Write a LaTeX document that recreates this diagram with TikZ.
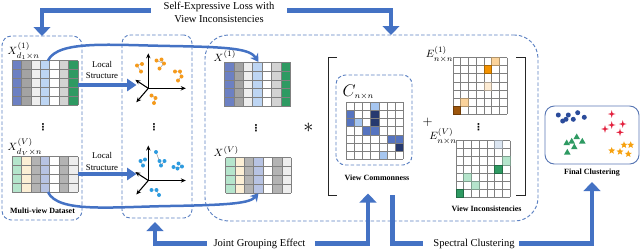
\documentclass[tikz,border=0pt]{standalone}
\usepackage{fontspec}
\setmainfont{Liberation Serif}
\newfontfamily\symfont{DejaVu Sans}
\usepackage{xcolor}
\definecolor{flowblue}{HTML}{4472C4}
\definecolor{dashblue}{HTML}{5B80C2}
\definecolor{frameblue}{HTML}{5A78B4}
\definecolor{viewblue}{HTML}{6C80C3}
\definecolor{viewgray}{HTML}{A3A3A3}
\definecolor{viewlight}{HTML}{EEEEEE}
\definecolor{viewsky}{HTML}{BDD5F3}
\definecolor{viewsilver}{HTML}{D3D3D3}
\definecolor{viewgreen}{HTML}{2E9A62}
\definecolor{viewmint}{HTML}{B5E5CC}
\definecolor{viewcream}{HTML}{FCEFD5}
\definecolor{viewslate}{HTML}{B3B3B3}
\definecolor{viewlilac}{HTML}{B7C3E3}
\definecolor{comlight}{HTML}{A6C6F0}
\definecolor{commid}{HTML}{5674C0}
\definecolor{comdark}{HTML}{26396F}
\definecolor{incpeach}{HTML}{FBD39B}
\definecolor{incorange}{HTML}{F39200}
\definecolor{incpale}{HTML}{FDEBD3}
\definecolor{incbrown}{HTML}{9E560C}
\definecolor{incice}{HTML}{DCE6F2}
\definecolor{dotorange}{HTML}{F59A1B}
\definecolor{dotblue}{HTML}{2D9BDF}
\definecolor{clnavy}{HTML}{2B4C9B}
\definecolor{clred}{HTML}{E3223F}
\definecolor{clgold}{HTML}{F6A10F}
\usepackage{tikz}
\usetikzlibrary{arrows.meta, shapes.geometric, positioning, calc}

\begin{document}
\begin{tikzpicture}[
  x=0.3mm, y=-0.3mm,
  region/.style={draw=dashblue, line width=0.8pt, dash pattern=on 3pt off 1.8pt,
    rounded corners=#1, inner sep=0pt, outer sep=0pt},
  matframe/.style={inner sep=0pt, outer sep=0pt},
  cellline/.style={draw=black!50, line width=0.4pt},
  flow/.style={draw=flowblue, line width=0.14cm},
  flowtip/.style={flow, -{Triangle[width=0.5cm, length=0.27cm]}},
  localtip/.style={draw=flowblue, line width=0.12cm, -{Triangle[width=0.36cm, length=0.28cm]}},
  linkcurve/.style={draw=flowblue, line width=0.075cm, -{Stealth[width=0.28cm, length=0.24cm]}},
  axisline/.style={line width=0.9pt, -{Stealth[width=0.13cm, length=0.15cm]}},
  joinline/.style={draw=black!45, line width=0.35pt},
  bracketline/.style={draw=black!85, line width=0.8pt},
  note/.style={font=\fontsize{9}{10.5}\selectfont, align=center},
  boxtag/.style={font=\fontsize{6.8}{8}\selectfont\bfseries},
  mathlabel/.style={font=\fontsize{9.5}{10}\selectfont, inner sep=0pt},
  vdotsmark/.style={font=\symfont\bfseries\fontsize{8}{8}\selectfont, inner sep=0pt},
  navydot/.style={circle, fill=clnavy, inner sep=0pt, minimum size=0.15cm},
  redcross/.style={star, star points=4, star point ratio=3.2, fill=clred,
    inner sep=0pt, minimum size=0.23cm},
  greentri/.style={regular polygon, regular polygon sides=3, fill=viewgreen,
    inner sep=0pt, minimum size=0.23cm},
  goldstar/.style={star, star points=5, star point ratio=2.3, fill=clgold,
    inner sep=0pt, minimum size=0.22cm}
]
  \useasboundingbox (0,0) rectangle (640,250);

  % regions
  \node[region=8pt, minimum width=2.4cm, minimum height=5.52cm] (box1) at (42,128) {};
  \node[region=7pt, minimum width=2.1cm, minimum height=5.49cm] (box2) at (157,126.5) {};
  \node[region=20pt, minimum width=9.99cm, minimum height=5.58cm] (box3) at (371.5,128) {};
  \node[region=8pt, minimum width=2.28cm, minimum height=2.7cm] (boxc) at (374,120) {};
  \node[draw=frameblue, line width=0.8pt, rounded corners=8pt,
    minimum width=2.82cm, minimum height=1.74cm] (boxf) at (592,135) {};

  % loss on top
  \node[note] (lossnote) at (219,12.5) {Self-Expressive Loss with\\View Inconsistencies};
  \draw[flowtip] ($(lossnote.west)+(-9,-2)$) -| (box1.north);
  \draw[flowtip] ($(lossnote.east)+(9,-2)$) -| ($(box3.north)+(19.5,0)$);

  % view matrices
  \node[matframe, minimum width=1.974cm, minimum height=1.335cm] (xa) at (44.9,82.75) {};
  \node[matframe, minimum width=1.974cm, minimum height=1.068cm] (xb) at (44.9,174.3) {};
  \node[matframe, minimum width=1.974cm, minimum height=1.335cm] (xc) at (257.4,84.25) {};
  \node[matframe, minimum width=1.974cm, minimum height=1.068cm] (xd) at (258.4,175.3) {};
  \foreach \m/\r in {xa/5, xc/5}
    \foreach \c [count=\i from 0] in {viewblue, viewgray, viewlight, viewsky, white, viewsilver, viewgreen}
      \fill[\c] ($(\m.north west)+(\i*9.4,0)$) rectangle +(9.4,\r*8.9);
  \foreach \m/\r in {xb/4, xd/4}
    \foreach \c [count=\i from 0] in {viewmint, viewcream, viewslate, viewlilac, white, viewslate, viewlight}
      \fill[\c] ($(\m.north west)+(\i*9.4,0)$) rectangle +(9.4,\r*8.9);
  \foreach \m/\r in {xa/5, xb/4, xc/5, xd/4} {
    \foreach \i in {0,...,7}
      \draw[cellline] ($(\m.north west)+(\i*9.4,0)$) -- +(0,\r*8.9);
    \foreach \j in {0,...,\r}
      \draw[cellline] ($(\m.north west)+(0,\j*8.9)$) -- +(65.8,0);
  }
  \node[mathlabel, anchor=south west] (xalab) at (7.5,60) {$X^{(1)}_{d_1\times n}$};
  \node[mathlabel, anchor=south west] (xblab) at (7.5,156) {$X^{(V)}_{d_V\times n}$};
  \node[mathlabel, anchor=south west] (xclab) at (213.5,61.5) {$X^{(1)}$};
  \node[mathlabel, anchor=south west] (xdlab) at (213.5,157) {$X^{(V)}$};
  \node[vdotsmark] (xadots) at (43,127.5) {⋮};
  \node[vdotsmark] (xcdots) at (256,128) {⋮};

  % local structure
  \coordinate (ls1) at (136.5,85);
  \coordinate (ls2) at (136.5,174);
  \draw[localtip] (xa.east |- ls1) -- (ls1);
  \draw[localtip] (xb.east |- ls2) -- (ls2);
  \node[font=\fontsize{7.5}{10}\selectfont, align=center] (ls1lab) at (102,70) {Local\\Structure};
  \node[font=\fontsize{7.5}{10}\selectfont, align=center] (ls2lab) at (102,161.5) {Local\\Structure};

  \coordinate (o1) at (148.3,88.3);
  \coordinate (o2) at (148.3,180.5);
  \foreach \o in {o1, o2} {
    \draw[axisline] (\o) -- +(0,-35);
    \draw[axisline] (\o) -- +(37.5,0);
    \draw[axisline] (\o) -- +(-13,-8.5);
    \draw[axisline] (\o) -- +(-12,14);
  }
  \draw[joinline] (137,65.5) -- (142,64) (137,65.5) -- (141,71.5)
    (156.5,60.5) -- (164,63.5) -- (161.5,59.5) (164,63.5) -- (159.5,68.5)
    (175,71.5) -- (180,71.5) -- (181.5,76.5) -- (178,80.5)
    (151.5,95.5) -- (155.5,98) -- (154,103);
  \foreach \x/\y in {137/65.5, 142/64, 141/71.5, 156.5/60.5, 161.5/59.5, 164/63.5,
      159.5/68.5, 175/71.5, 180/71.5, 181.5/76.5, 178/80.5, 151.5/95.5, 155.5/98, 154/103}
    \fill[dotorange] (\x,\y) circle (0.06cm);
  \draw[joinline] (140.5,161) -- (145,159.5) (140.5,161) -- (143,165.5)
    (156,152) -- (159.5,161) -- (161,165.5) -- (164.5,161) (156,152) -- (161,165.5)
    (173.5,167) -- (177.5,168.5) -- (182,166.5) -- (178.5,163.5)
    (151.5,190) -- (156.5,190) -- (159,195);
  \foreach \x/\y in {140.5/161, 145/159.5, 143/165.5, 156/152, 159.5/161, 161/165.5,
      164.5/161, 173.5/167, 177.5/168.5, 182/166.5, 178.5/163.5, 151.5/190, 156.5/190, 159/195}
    \fill[dotblue] (\x,\y) circle (0.06cm);
  \node[vdotsmark] (plotdots) at (154,127) {⋮};

  % links between the view matrices
  \coordinate (xatop) at ($(xa.north west)+(36,0)$);
  \coordinate (xbbot) at ($(xb.south west)+(36,0)$);
  \coordinate (xctop) at ($(xc.north west)+(34,0)$);
  \coordinate (xdbot) at ($(xd.south west)+(33,0)$);
  \draw[linkcurve] (xatop) .. controls (58,40) and (110,45) .. (170,46)
    .. controls (232,47) and (250,49) .. (xctop);
  \draw[linkcurve] (xbbot) .. controls (58,213) and (110,207) .. (170,206)
    .. controls (232,205) and (250,203) .. (xdbot);

  % commonness and inconsistencies
  \node[font=\fontsize{18}{18}\selectfont, inner sep=0pt] (prod) at (308.5,128) {$\ast$};
  \draw[bracketline] (337,57) -- (328,57) -- (328,195) -- (337,195);
  \draw[bracketline] (516,57) -- (525,57) -- (525,195) -- (516,195);

  \node[matframe, minimum width=1.722cm, minimum height=1.722cm] (cmat) at (374.7,130.7) {};
  \node[matframe, minimum width=1.617cm, minimum height=1.701cm] (einc) at (479.95,85.85) {};
  \node[matframe, minimum width=1.617cm, minimum height=1.701cm] (vinc) at (482.95,168.85) {};
  \foreach \r/\c/\col in {0/3/comlight, 1/0/commid, 1/3/comdark, 2/0/commid, 2/1/comlight,
      2/3/comdark, 3/2/commid, 3/3/commid, 4/5/commid, 4/6/commid, 5/6/comdark, 6/4/comlight}
    \fill[\col] ($(cmat.north west)+(\c*8.2,\r*8.2)$) rectangle +(8.2,8.2);
  \foreach \m/\w/\h in {cmat/8.2/8.2, einc/7.7/8.1, vinc/7.7/8.1}
    \foreach \k in {0,...,7} {
      \draw[cellline] ($(\m.north west)+(\k*\w,0)$) -- +(0,7*\h);
      \draw[cellline] ($(\m.north west)+(0,\k*\h)$) -- +(7*\w,0);
    }
  \foreach \r/\c/\col in {0/5/incpeach, 1/4/incorange, 3/4/incpale, 5/1/incpeach, 6/0/incbrown}
    \filldraw[fill=\col, draw=\col!70!black, line width=0.4pt]
      ($(einc.north west)+(\c*7.7,\r*8.1)$) rectangle +(7.7,8.1);
  \foreach \r/\c/\col in {0/5/incice, 2/6/viewmint, 3/5/viewgreen, 4/1/viewmint, 5/2/viewmint, 6/0/viewgreen}
    \filldraw[fill=\col, draw=\col!70!black, line width=0.4pt]
      ($(vinc.north west)+(\c*7.7,\r*8.1)$) rectangle +(7.7,8.1);
  \node[anchor=south west, inner sep=0pt, font=\fontsize{14}{14}\selectfont]
    (clab) at (342.5,100) {$C_{\scriptscriptstyle n\times n}$};
  \node[mathlabel, anchor=south east] (elab) at (453.5,62.5) {$E^{(1)}_{n\times n}$};
  \node[mathlabel, anchor=south east] (vlab) at (457,144.5) {$E^{(V)}_{n\times n}$};
  \node[font=\fontsize{11}{11}\selectfont] (plus) at (427.5,122.5) {$+$};
  \node[vdotsmark] (edots) at (478.5,127) {⋮};

  % final clustering
  \foreach \x/\y [count=\i] in {558.3/115, 562.7/121, 566/119.3, 568.3/115, 573.3/119.3, 577.7/112.7, 584.3/117.3}
    \node[navydot] (nv\i) at (\x,\y) {};
  \foreach \x/\y [count=\i] in {611.7/114, 611.7/125, 605/129, 622.7/124, 620/132.3}
    \node[redcross] (rc\i) at (\x,\y) {};
  \foreach \x/\y [count=\i] in {576.7/137.3, 571.7/141.7, 582.3/141.7, 566.7/143.3, 574.3/147.3, 567.3/152.7}
    \node[greentri] (gt\i) at (\x,\y) {};
  \foreach \x/\y [count=\i] in {611.7/150.7, 620/151.7, 624/145, 630.7/145, 628.3/154}
    \node[goldstar] (gs\i) at (\x,\y) {};

  % box labels
  \node[boxtag] (datalab) at (42.5,210.5) {Multi-view Dataset};
  \node[boxtag] (comlab) at (377,177.5) {View Commonness};
  \node[boxtag] (inclab) at (486.5,208.5) {View Inconsistencies};
  \node[boxtag] (finlab) at (592,172.5) {Final Clustering};

  % bottom feedback
  \node[note, inner sep=2pt] (joint) at (259.5,243.5) {Joint Grouping Effect};
  \coordinate (jgtip) at (368,193.5);
  \draw[flowtip] ($(joint.west)+(-4,0)$) -| ($(box2.south)+(-2,4)$);
  \draw[flowtip] ($(joint.east)+(7,0)$) -| (jgtip);
  \node[note, inner sep=2pt] (spectral) at (474,243.5) {Spectral Clustering};
  \coordinate (sctop) at (392.5,195);
  \coordinate (fctip) at (592,182);
  \draw[flow] (sctop) |- ($(spectral.west)+(-8,0)$);
  \draw[flowtip] ($(spectral.east)+(2,0)$) -| (fctip);
\end{tikzpicture}
\end{document}
